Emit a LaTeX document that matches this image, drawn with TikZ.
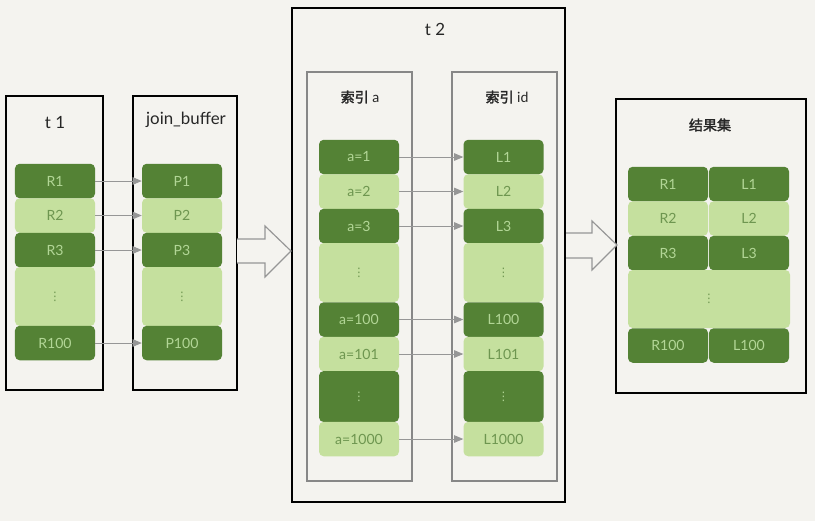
\documentclass[tikz,border=0pt]{standalone}
\usepackage{fontspec}
\setmainfont{Lato}
\newfontfamily\cjk[AutoFakeBold=2]{Noto Sans CJK SC}
\newfontfamily\symf{DejaVu Sans}
\usepackage{tikz}
\usetikzlibrary{arrows,shapes,positioning}
\definecolor{bgpaper}{RGB}{244,243,239}
\definecolor{rowdark}{RGB}{84,130,53}
\definecolor{rowlight}{RGB}{197,224,158}
\definecolor{txtlight}{RGB}{178,214,150}
\definecolor{txtdark}{RGB}{110,150,80}
\definecolor{linegray}{RGB}{150,150,150}
\tikzstyle{arrow} = [thick,->,>=triangle 45,color=linegray]
\tikzstyle{bigarrow} = [draw=linegray, fill=bgpaper, line width=1pt, line join=miter]
\tikzstyle{outerbox} = [rectangle, draw=black, line width=1.2pt, inner sep=0pt]
\tikzstyle{idxbox} = [rectangle, draw=linegray!90!black, line width=1pt, inner sep=0pt]
\tikzstyle{rowbox} = [rectangle, rounded corners=4pt, minimum width=2.4cm, minimum height=1.035cm, inner sep=0pt, font=\large]
\tikzstyle{darkrow} = [rowbox, fill=rowdark, text=txtlight]
\tikzstyle{lightrow} = [rowbox, fill=rowlight, text=txtdark]
\tikzstyle{dotsrow} = [font=\normalsize\symf]
\tikzstyle{title} = [font=\Large, text=black!85]

\begin{document}
\begin{tikzpicture}[x=0.03cm, y=-0.03cm]
\fill[bgpaper] (0,0) rectangle (815,521);
\useasboundingbox (0,0) rectangle (815,521);

% containers
\node[outerbox, minimum width=2.91cm, minimum height=8.82cm] (t1box) at (54.5,243) {};
\node[outerbox, minimum width=3.12cm, minimum height=8.82cm] (jbbox) at (185,243) {};
\node[outerbox, minimum width=8.19cm, minimum height=14.82cm] (t2box) at (428.5,255) {};
\node[idxbox, minimum width=3.15cm, minimum height=12.27cm] (idxa) at (359.5,276.5) {};
\node[idxbox, minimum width=3.15cm, minimum height=12.27cm] (idxid) at (504.5,276.5) {};
\node[outerbox, minimum width=5.7cm, minimum height=8.82cm] (resbox) at (711,246) {};

% titles
\node[title] (t1lab) at (55,123) {t 1};
\node[title] (jblab) at (186,120) {join\_buffer};
\node[title] (t2lab) at (435,29) {t 2};
\node[title, font=\large] (idxalab) at (360,97) {{\cjk\bfseries 索引} a};
\node[title, font=\large] (idxidlab) at (507,97) {{\cjk\bfseries 索引} id};
\node[title, font=\large\cjk\bfseries] (reslab) at (710,125) {结果集};

% t1
\node[darkrow] (r1) at (55,181) {R1};
\node[lightrow] (r2) at (55,215.5) {R2};
\node[darkrow] (r3) at (55,250) {R3};
\node[lightrow, dotsrow, minimum height=1.77cm] (rdots) at (55,296.5) {⋮};
\node[darkrow] (r100) at (55,343) {R100};

% join_buffer
\node[darkrow] (p1) at (182,181) {P1};
\node[lightrow] (p2) at (182,215.5) {P2};
\node[darkrow] (p3) at (182,250) {P3};
\node[lightrow, dotsrow, minimum height=1.77cm] (pdots) at (182,296.5) {⋮};
\node[darkrow] (p100) at (182,343) {P100};

\draw[arrow] (r1) -- (p1);
\draw[arrow] (r2) -- (p2);
\draw[arrow] (r3) -- (p3);
\draw[arrow] (r100) -- (p100);

% index a
\node[darkrow] (a1) at (359,157) {a=1};
\node[lightrow] (a2) at (359,191.5) {a=2};
\node[darkrow] (a3) at (359,226) {a=3};
\node[lightrow, dotsrow, minimum height=1.77cm] (adots) at (359,272.5) {⋮};
\node[darkrow] (a100) at (359,319.5) {a=100};
\node[lightrow] (a101) at (359,354) {a=101};
\node[darkrow, dotsrow, minimum height=1.53cm] (adots2) at (359,396.5) {⋮};
\node[lightrow] (a1000) at (359,439) {a=1000};

% index id
\node[darkrow] (l1) at (503.5,157) {L1};
\node[lightrow] (l2) at (503.5,191.5) {L2};
\node[darkrow] (l3) at (503.5,226) {L3};
\node[lightrow, dotsrow, minimum height=1.77cm] (ldots) at (503.5,272.5) {⋮};
\node[darkrow] (l100) at (503.5,319.5) {L100};
\node[lightrow] (l101) at (503.5,354) {L101};
\node[darkrow, dotsrow, minimum height=1.53cm] (ldots2) at (503.5,396.5) {⋮};
\node[lightrow] (l1000) at (503.5,439) {L1000};

\draw[arrow] (a1) -- (l1);
\draw[arrow] (a2) -- (l2);
\draw[arrow] (a3) -- (l3);
\draw[arrow] (a100) -- (l100);
\draw[arrow] (a101) -- (l101);
\draw[arrow] (a1000) -- (l1000);

% result
\node[darkrow] (sr1) at (668,184) {R1};
\node[darkrow] (sl1) at (749,184) {L1};
\node[lightrow] (sr2) at (668,218.5) {R2};
\node[lightrow] (sl2) at (749,218.5) {L2};
\node[darkrow] (sr3) at (668,253) {R3};
\node[darkrow] (sl3) at (749,253) {L3};
\node[lightrow, dotsrow, minimum width=4.86cm, minimum height=1.74cm] (sdots) at (709,299) {⋮};
\node[darkrow] (sr100) at (668,345.5) {R100};
\node[darkrow] (sl100) at (749,345.5) {L100};

% big arrows
\draw[bigarrow] (237,239) -- (265,239) -- (265,226) -- (291,251) -- (265,277) -- (265,263) -- (237,263);
\draw[bigarrow] (566,233) -- (592,233) -- (592,221) -- (617,245) -- (592,270) -- (592,258) -- (566,258);
\end{tikzpicture}
\end{document}
